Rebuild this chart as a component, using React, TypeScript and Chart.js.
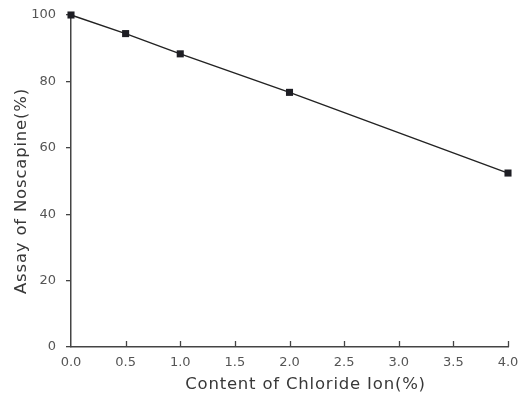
import React, { useEffect, useRef } from "react";
import { Chart, registerables } from "chart.js";

Chart.register(...registerables);

const chlorideContent = [0.0, 0.5, 1.0, 2.0, 4.0];
const noscapineAssay = [100, 94.4, 88.3, 76.7, 52.4];
const xTickStep = 0.5;
const yTickStep = 20;
const xTitle = "Content of Chloride Ion(%)";
const yTitle = "Assay of Noscapine(%)";

const FONT = "'DejaVu Sans', 'Liberation Sans', Arial, sans-serif";

const innerXTicks = {
  id: "innerXTicks",
  afterDraw(chart: any) {
    const xs = chart.scales.x;
    const ctx = chart.ctx;
    const y0 = chart.chartArea.bottom;
    ctx.save();
    ctx.strokeStyle = "#444";
    ctx.lineWidth = 1.3;
    xs.ticks.forEach((t: any) => {
      if (t.value === 0) return;
      const px = Math.round(xs.getPixelForValue(t.value)) + 0.5;
      ctx.beginPath();
      ctx.moveTo(px, y0);
      ctx.lineTo(px, y0 - 6);
      ctx.stroke();
    });
    ctx.restore();
  },
};

const axisTitles = {
  id: "axisTitles",
  afterDraw(chart: any) {
    const ctx = chart.ctx;
    const area = chart.chartArea;
    ctx.save();
    ctx.fillStyle = "#383838";
    ctx.font = `16.5px ${FONT}`;
    try {
      (ctx as any).letterSpacing = "0.8px";
    } catch (e) {}
    ctx.textAlign = "center";
    ctx.textBaseline = "alphabetic";
    ctx.fillText(xTitle, (area.left + area.right) / 2 + 16, 389);
    ctx.translate(26, (area.top + area.bottom) / 2 + 10);
    ctx.rotate(-Math.PI / 2);
    ctx.fillText(yTitle, 0, 0);
    ctx.restore();
  },
};

export default function App() {
  const ref = useRef<HTMLCanvasElement | null>(null);
  useEffect(() => {
    if (!ref.current) return;
    const chart = new Chart(ref.current, {
      type: "line",
      data: {
        datasets: [
          {
            data: chlorideContent.map((x, i) => ({ x, y: noscapineAssay[i] })),
            borderColor: "#222",
            borderWidth: 1.4,
            backgroundColor: "#222",
            pointStyle: "rect",
            pointRadius: 5,
            pointBackgroundColor: "#1e1e24",
            pointBorderWidth: 0,
            tension: 0,
            clip: false as any,
          },
        ],
      },
      options: {
        animation: false,
        responsive: false,
        maintainAspectRatio: false,
        layout: { padding: { top: 15, right: 17, left: 0, bottom: 0 } },
        plugins: { legend: { display: false }, tooltip: { enabled: false } },
        scales: {
          x: {
            type: "linear",
            min: 0,
            max: 4,
            afterFit: (s: any) => {
              s.height = 47;
              s.paddingLeft = 0;
              s.paddingRight = 0;
            },
            ticks: {
              stepSize: xTickStep,
              callback: (v: any) => Number(v).toFixed(1),
              color: "#555",
              font: { family: FONT, size: 13 },
              padding: 8,
              maxRotation: 0,
            },
            grid: { display: false, drawTicks: false },
            border: { display: true, color: "#444", width: 1.5 },
            title: { display: false, text: xTitle },
          },
          y: {
            type: "linear",
            min: 0,
            max: 100,
            afterFit: (s: any) => {
              s.width = 71;
              s.paddingTop = 0;
              s.paddingBottom = 0;
            },
            ticks: {
              stepSize: yTickStep,
              color: "#555",
              font: { family: FONT, size: 13 },
              padding: 10,
            },
            grid: {
              drawOnChartArea: false,
              drawTicks: true,
              tickLength: 5,
              color: "#444",
              lineWidth: 1.3,
            },
            border: { display: true, color: "#444", width: 1.5 },
            title: { display: false, text: yTitle },
          },
        },
      },
      plugins: [innerXTicks, axisTitles],
    } as any);
    return () => chart.destroy();
  }, []);
  return (
    <div style={{ position: "fixed", left: 0, top: 0, width: 525, height: 394, background: "#fff" }}>
      <canvas ref={ref} width={525} height={394} style={{ display: "block" }} />
    </div>
  );
}
